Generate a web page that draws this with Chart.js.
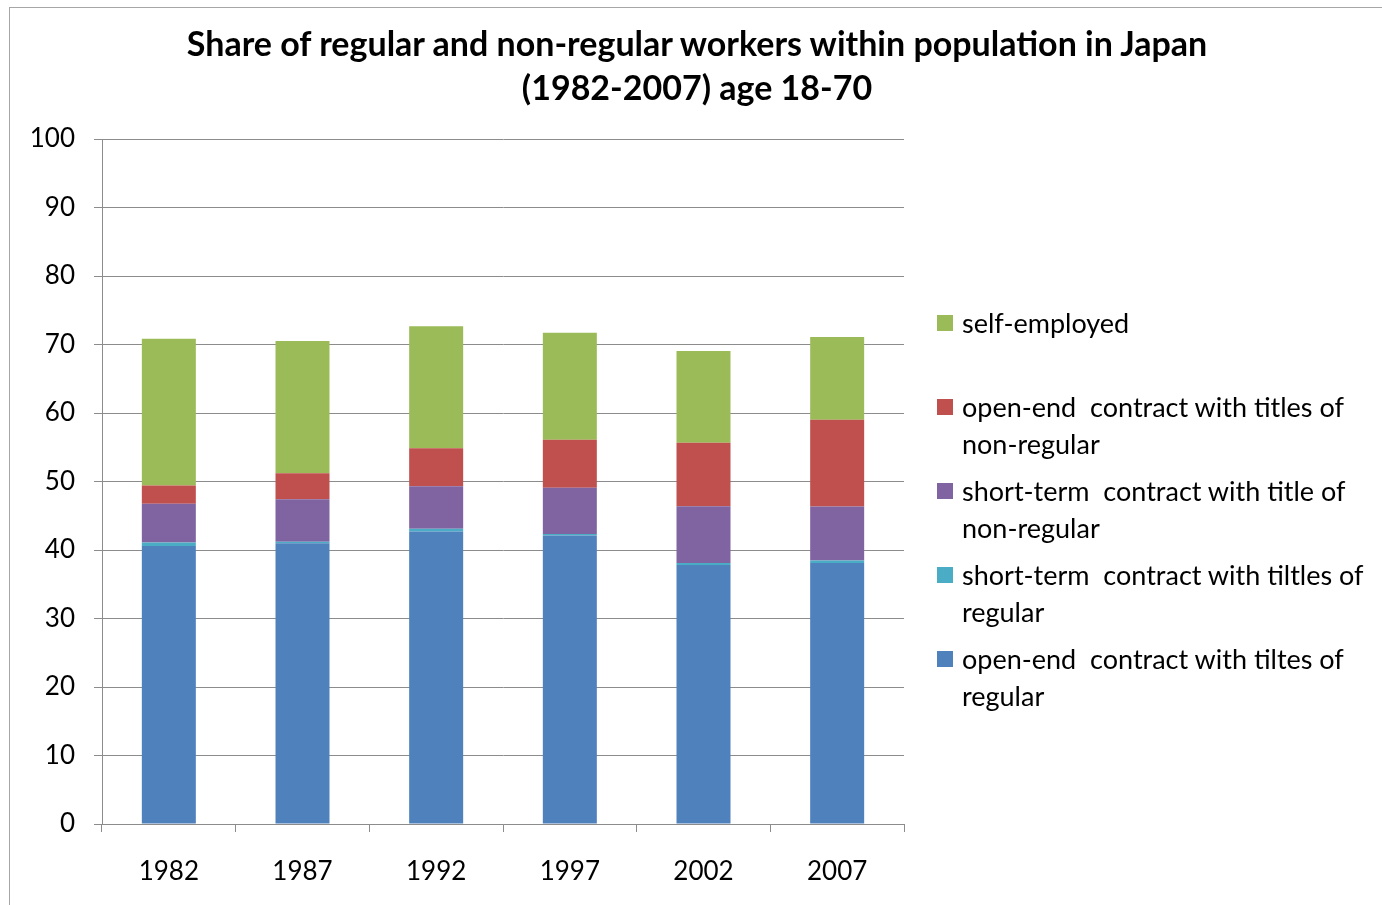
<!DOCTYPE html>
<html>
<head>
<meta charset="utf-8">
<title>Regular and non-regular workers in Japan</title>
<script src="https://cdn.jsdelivr.net/npm/chart.js@4"></script>
<style>
  html, body { margin: 0; padding: 0; background: #fff; }
  #wrap { position: relative; width: 1382px; height: 905px; overflow: hidden; font-family: Lato, 'Open Sans', sans-serif; }
  #frame { position: absolute; left: 9px; top: 7px; width: 1400px; height: 920px; border: 1px solid #a6a6a6; box-sizing: border-box; }
  #chart { position: absolute; left: 0; top: 0; }
  #title { position: absolute; left: 12px; right: 0; top: 21px; text-align: center; font-weight: bold; font-size: 34px; line-height: 44px; color: #000; }
  #legend { position: absolute; left: 937px; top: 305px; font-size: 27px; color: #000; }
  .lg-item { position: relative; padding-left: 25px; line-height: 36.5px; height: 73px; margin-bottom: 11px; }
  .lg-box { position: absolute; left: 0; top: 10px; width: 16px; height: 16px; }
</style>
</head>
<body>
<div id="wrap">
  <canvas id="chart" width="1382" height="905"></canvas>
  <div id="frame"></div>
  <div id="title">Share of regular and non-regular workers within population in Japan<br>(1982-2007) age 18-70</div>
  <div id="legend"></div>
</div>
<script>
// survey years
const years = ['1982', '1987', '1992', '1997', '2002', '2007'];

// shares (%) by employment type, stacked bottom to top
const openEndRegular     = [40.6, 41.0, 42.7, 42.1, 37.8, 38.1];
const shortTermRegular   = [0.5, 0.2, 0.4, 0.25, 0.3, 0.35];
const shortTermNonReg    = [5.65, 6.2, 6.2, 6.75, 8.3, 7.9];
const openEndNonReg      = [2.65, 3.8, 5.55, 7.0, 9.25, 12.65];
const selfEmployed       = [21.45, 19.3, 17.8, 15.6, 13.4, 12.1];

const yTicks = [0, 10, 20, 30, 40, 50, 60, 70, 80, 90, 100];

const GRID = '#8c8c8c';

const series = [
  { label: ['open-end  contract with tiltes of', 'regular'], data: openEndRegular, color: '#4F81BD' },
  { label: ['short-term  contract with tiltles of', 'regular'], data: shortTermRegular, color: '#4BACC6' },
  { label: ['short-term  contract with title of', 'non-regular'], data: shortTermNonReg, color: '#8064A2' },
  { label: ['open-end  contract with titles of', 'non-regular'], data: openEndNonReg, color: '#C0504D' },
  { label: ['self-employed', ''], data: selfEmployed, color: '#9BBB59' },
];

const datasets = series.map(s => ({
  label: s.label.join(' ').trim(),
  data: s.data,
  backgroundColor: s.color,
  borderWidth: 0,
  barPercentage: 0.404,
  categoryPercentage: 1,
}));

// legend lists top series first, like the stack
const legendEl = document.getElementById('legend');
legendEl.innerHTML = series.slice().reverse().map(s => `
  <div class="lg-item">
    <span class="lg-box" style="background:${s.color}"></span>
    <div style="white-space:pre">${s.label[0]}</div>
    <div>${s.label[1] || '&nbsp;'}</div>
  </div>`).join('');

new Chart(document.getElementById('chart'), {
  type: 'bar',
  data: { labels: years, datasets },
  options: {
    responsive: false,
    animation: false,
    layout: { padding: { left: 12, right: 478, top: 139, bottom: 0 } },
    plugins: {
      legend: { display: false },
      title: { display: false },
      tooltip: { enabled: false },
    },
    scales: {
      x: {
        stacked: true,
        afterFit: axis => { axis.height = 81; },
        grid: { offset: true, drawOnChartArea: false, tickLength: 8, color: GRID },
        border: { color: GRID },
        ticks: { color: '#000', padding: 24, font: { family: 'Lato', size: 26 } },
      },
      y: {
        stacked: true,
        min: 0,
        max: 100,
        afterBuildTicks: axis => { axis.ticks = yTicks.map(v => ({ value: v })); },
        afterFit: axis => { axis.width = 90; },
        grid: { color: GRID, tickLength: 8 },
        border: { color: GRID },
        ticks: { color: '#000', padding: 19, font: { family: 'Lato', size: 26 } },
      },
    },
  },
});
</script>
</body>
</html>
